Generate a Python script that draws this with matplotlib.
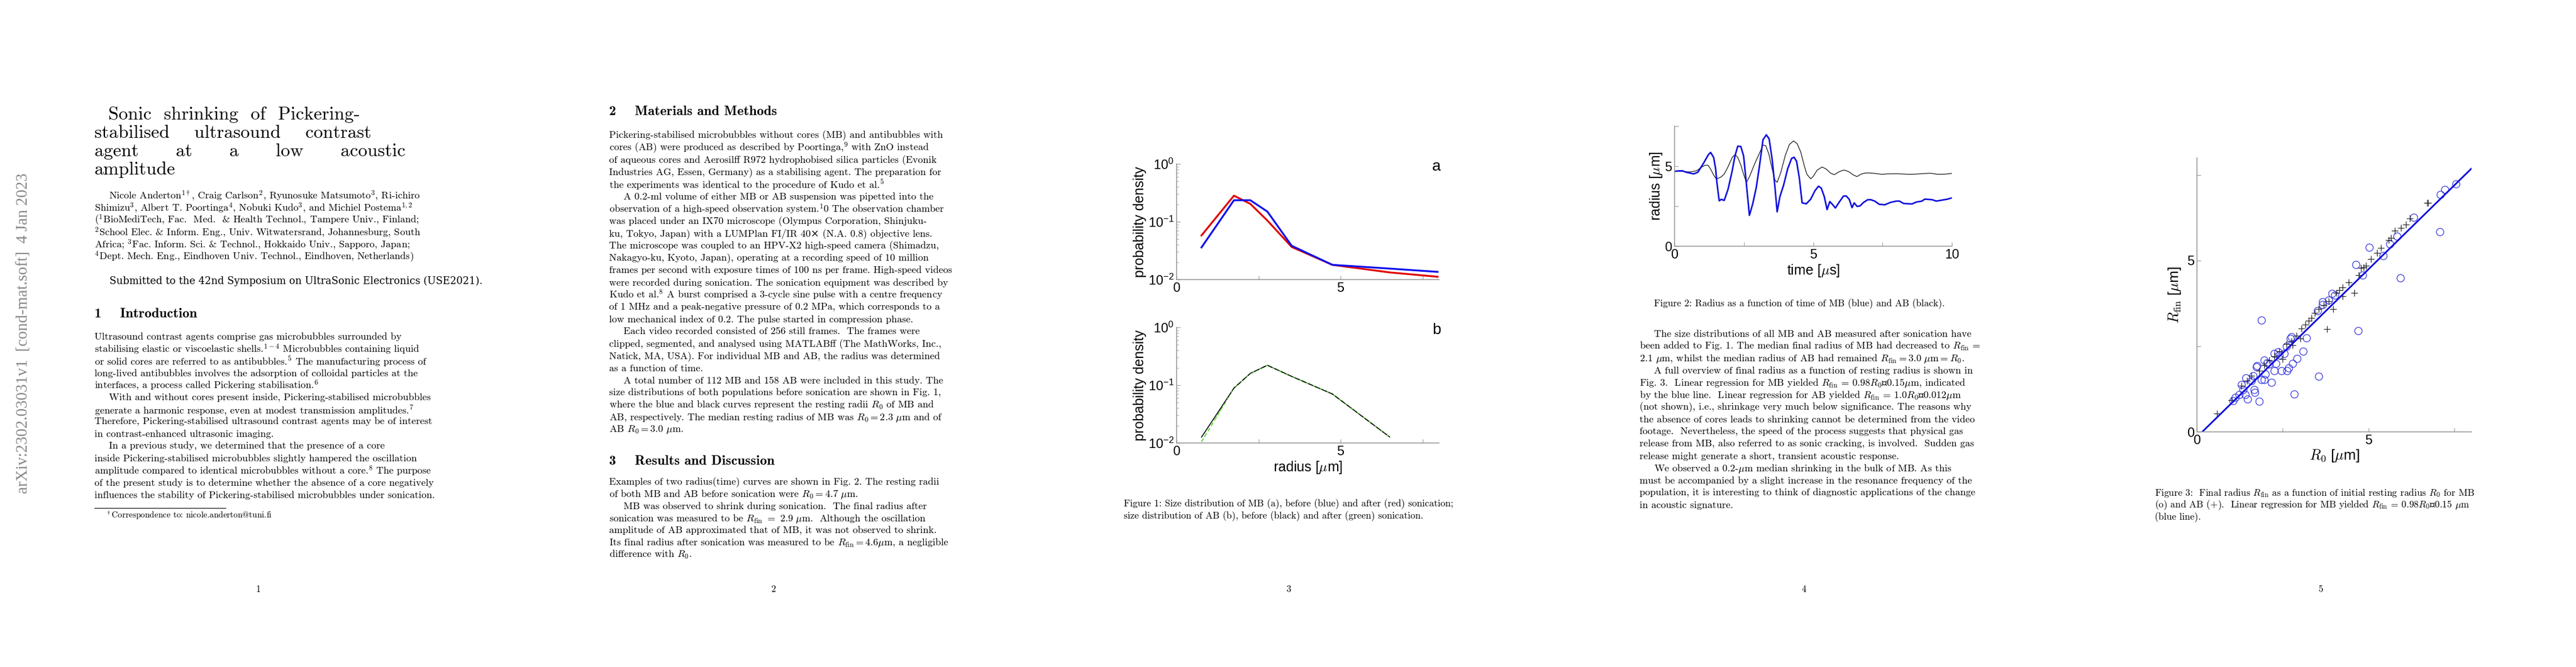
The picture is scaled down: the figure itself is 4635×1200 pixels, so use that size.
import matplotlib
matplotlib.use("Agg")
import matplotlib.pyplot as plt
import numpy as np

plt.rcParams['mathtext.fontset'] = 'cm'
plt.rcParams['axes.unicode_minus'] = False

W, H = 4635, 1200
fig = plt.figure(figsize=(W/100, H/100), dpi=100)
SER = ['cmr10', 'DejaVu Serif']
BOLD = ['cmb10', 'DejaVu Serif']
ITAL = ['cmti10', 'DejaVu Serif']
SANS = ['Liberation Sans', 'DejaVu Sans']

def T(x, y, s, size=13, fam=SER, **kw):
    kw.setdefault('va', 'center')
    fig.text(x/W, 1-y/H, s, fontsize=size, family=fam, **kw)

def lines(x, y0, step, ls, size=13, indent=()):
    for i, s in enumerate(ls):
        T(x + (26 if i in indent else 0), y0 + i*step, s, size)

# ---------------- data ----------------
fig1_r = [0.76, 1.75, 2.25, 2.77, 3.51, 4.75, 6.50, 7.96]
fig1a_before = [0.036, 0.236, 0.236, 0.15, 0.0385, 0.018, 0.0155, 0.0136]
fig1a_after = [0.058, 0.283, 0.204, 0.105, 0.0367, 0.018, 0.0133, 0.0112]
fig1b_r = [0.76, 1.75, 2.25, 2.77, 3.51, 4.75, 6.50]
fig1b_before = [0.0126, 0.089, 0.16, 0.221, 0.142, 0.0705, 0.0127]
fig1b_after = [0.0105, 0.089, 0.16, 0.221, 0.142, 0.0705, 0.0127]

mb_t = [0.00,0.12,0.28,0.43,0.69,0.84,1.05,1.22,1.30,1.41,1.48,1.53,1.61,1.69,1.79,1.93,2.08,2.18,2.28,2.39,2.49,2.57,2.70,2.82,2.95,3.05,3.19,3.31,3.41,3.52,3.62,3.70,3.80,3.93,4.08,4.22,4.31,4.40,4.50,4.60,4.75,4.91,5.06,5.19,5.29,5.40,5.50,5.60,5.68,5.80,5.94,6.09,6.19,6.30,6.40,6.48,6.58,6.69,6.81,6.96,7.07,7.22,7.38,7.58,7.79,8.00,8.11,8.26,8.56,8.72,8.92,9.02,9.28,9.44,9.64,9.84,10.0]
mb_r = [4.68,4.70,4.71,4.62,4.52,4.62,5.20,5.72,5.86,5.55,4.86,3.94,2.84,2.93,2.86,3.56,4.72,5.65,6.25,6.23,5.65,4.26,1.93,2.65,3.70,4.86,6.65,6.96,6.71,5.43,3.70,2.15,3.10,3.80,4.84,5.48,5.56,5.31,4.26,2.71,2.65,2.94,3.46,3.75,3.63,3.10,2.29,2.79,2.64,2.39,2.76,3.13,3.14,2.93,2.41,2.71,2.49,2.52,2.73,2.90,2.91,2.82,2.62,2.59,2.74,2.82,2.82,2.67,2.64,2.76,2.82,2.94,2.91,2.82,2.88,2.94,3.02]
ab_t = [0.00,0.23,0.53,0.79,0.95,1.10,1.21,1.31,1.41,1.51,1.67,1.79,1.93,2.08,2.18,2.28,2.39,2.49,2.59,2.71,2.90,3.05,3.19,3.29,3.40,3.52,3.62,3.70,3.83,3.99,4.14,4.29,4.42,4.55,4.67,4.77,4.91,5.01,5.14,5.32,5.47,5.63,5.76,5.94,6.11,6.28,6.45,6.58,6.71,6.86,7.02,7.22,7.48,7.68,8.04,8.46,8.66,8.97,9.23,9.49,9.74,10.0]
ab_r = [4.68,4.68,4.64,4.71,4.91,5.06,5.06,4.79,4.45,4.19,4.32,4.50,4.97,5.55,5.72,5.55,5.08,4.50,3.97,4.38,5.19,5.76,6.32,6.28,5.76,4.83,4.13,3.99,4.60,5.65,6.35,6.58,6.41,5.89,5.08,4.50,4.21,4.38,4.75,4.95,4.82,4.56,4.47,4.66,4.76,4.66,4.45,4.35,4.49,4.57,4.58,4.55,4.49,4.52,4.53,4.49,4.50,4.54,4.56,4.49,4.50,4.55]

mb_r0 = [7.54,7.23,7.09,6.32,7.07,5.83,5.62,5.02,5.43,4.63,4.82,5.93,4.01,3.93,3.66,1.88,4.69,3.19,3.10,2.91,2.79,2.67,2.63,2.46,2.25,3.55,2.30,2.17,2.83,1.82,1.47,1.68,1.67,1.41,1.12,1.05,1.30,1.43,1.63,1.74,1.96,1.96,1.88,1.99,2.10,2.25,2.39,2.54,2.75,2.72,2.61,2.36,2.04,1.75,1.58,1.34,1.23,3.52,3.66,3.84]
mb_rfin = [7.24,7.07,6.93,6.26,5.84,5.72,5.48,5.39,5.15,4.89,4.58,4.49,4.00,4.04,3.80,3.26,2.95,2.74,2.36,2.15,2.00,1.87,1.78,1.78,1.78,1.63,1.99,1.45,1.10,0.89,0.96,1.16,1.24,1.09,1.01,0.91,1.38,1.58,1.64,1.90,2.09,1.53,1.53,1.68,1.98,2.28,2.24,2.29,2.78,2.72,2.50,2.34,2.02,1.93,1.50,1.24,1.09,3.54,3.72,3.84]
ab_r0 = [0.58,1.01,1.30,1.45,1.59,1.81,1.96,2.10,2.25,2.39,2.50,2.61,2.75,2.79,2.90,3.01,3.04,3.15,3.26,3.33,3.44,3.55,3.70,3.84,3.97,3.79,4.07,4.14,4.24,4.24,4.42,4.58,4.71,4.78,4.86,4.93,5.07,5.25,5.36,5.58,5.65,5.76,5.94,6.09,6.70,6.74,6.20]
ab_rfin = [0.54,0.93,1.34,1.49,1.64,1.79,1.94,2.09,2.20,2.35,2.13,2.57,2.64,2.53,2.80,2.72,3.02,3.13,3.25,3.32,3.47,3.58,3.70,3.81,3.58,3.01,4.06,4.14,4.22,3.96,4.37,4.06,4.58,4.78,4.81,4.85,5.04,5.22,5.37,5.60,5.67,5.88,5.96,6.06,6.69,6.69,6.23]
fit_x = [0.15, 7.99]
fit_slope, fit_icpt = 0.98, -0.15

def ax_px(l, t, r, b):
    return fig.add_axes([l/W, 1-b/H, (r-l)/W, (b-t)/H])

def matlab_style(ax):
    for s in ['top', 'right']:
        ax.spines[s].set_visible(False)
    for s in ['left', 'bottom']:
        ax.spines[s].set_color('#999999'); ax.spines[s].set_linewidth(1.2)
    ax.tick_params(direction='in', color='#999999', length=5, labelsize=17)
    for lab in ax.get_xticklabels() + ax.get_yticklabels():
        lab.set_family(SANS)

# ---------------- page 1 ----------------
T(43, 600, 'arXiv:2302.03031v1  [cond-mat.soft]  4 Jan 2023', 21, ['Liberation Serif'],
  rotation=90, ha='center', color='#888888')
title = ['Sonic  shrinking  of  Pickering-', 'stabilised    ultrasound    contrast',
         'agent      at      a      low      acoustic', 'amplitude']
for i, s in enumerate(title):
    T(195 if i == 0 else 170, 206 + i*33, s, 24)
lines(170, 352, 22, [
    'Nicole Anderton$^{1\\dagger}$, Craig Carlson$^2$, Ryunosuke Matsumoto$^3$, Ri-ichiro',
    'Shimizu$^3$, Albert T. Poortinga$^4$, Nobuki Kudo$^3$, and Michiel Postema$^{1,2}$',
    '($^1$BioMediTech, Fac.  Med.  & Health Technol., Tampere Univ., Finland;',
    '$^2$School Elec. & Inform. Eng., Univ. Witwatersrand, Johannesburg, South',
    'Africa; $^3$Fac. Inform. Sci. & Technol., Hokkaido Univ., Sapporo, Japan;',
    '$^4$Dept. Mech. Eng., Eindhoven Univ. Technol., Eindhoven, Netherlands)'], indent=(0,))
T(197, 506, 'Submitted to the 42nd Symposium on UltraSonic Electronics (USE2021).', 13, ITAL)
T(170, 565, '1    Introduction', 18, BOLD)
lines(170, 606, 21.9, [
    'Ultrasound contrast agents comprise gas microbubbles surrounded by',
    'stabilising elastic or viscoelastic shells.$^{1-4}$ Microbubbles containing liquid',
    'or solid cores are referred to as antibubbles.$^5$ The manufacturing process of',
    'long-lived antibubbles involves the adsorption of colloidal particles at the',
    'interfaces, a process called Pickering stabilisation.$^6$',
    'With and without cores present inside, Pickering-stabilised microbubbles',
    'generate a harmonic response, even at modest transmission amplitudes.$^7$',
    'Therefore, Pickering-stabilised ultrasound contrast agents may be of interest',
    'in contrast-enhanced ultrasonic imaging.',
    'In a previous study, we determined that the presence of a core',
    'inside Pickering-stabilised microbubbles slightly hampered the oscillation',
    'amplitude compared to identical microbubbles without a core.$^8$ The purpose',
    'of the present study is to determine whether the absence of a core negatively',
    'influences the stability of Pickering-stabilised microbubbles under sonication.'],
    indent=(5, 9))
fig.add_artist(plt.Line2D([170/W, 406/W], [1-914/H, 1-914/H], color='k', lw=0.8))
T(190, 927, '$^\\dagger$Correspondence to: nicole.anderton@tuni.fi', 11)

# ---------------- page 2 ----------------
T(1096, 201, '2    Materials and Methods', 18, BOLD)
lines(1096, 244, 22.05, [
    'Pickering-stabilised microbubbles without cores (MB) and antibubbles with',
    'cores (AB) were produced as described by Poortinga,$^9$ with ZnO instead',
    'of aqueous cores and Aerosil® R972 hydrophobised silica particles (Evonik',
    'Industries AG, Essen, Germany) as a stabilising agent. The preparation for',
    'the experiments was identical to the procedure of Kudo et al.$^5$',
    'A 0.2-ml volume of either MB or AB suspension was pipetted into the',
    'observation of a high-speed observation system.$^1$0 The observation chamber',
    'was placed under an IX70 microscope (Olympus Corporation, Shinjuku-',
    'ku, Tokyo, Japan) with a LUMPlan FI/IR 40× (N.A. 0.8) objective lens.',
    'The microscope was coupled to an HPV-X2 high-speed camera (Shimadzu,',
    'Nakagyo-ku, Kyoto, Japan), operating at a recording speed of 10 million',
    'frames per second with exposure times of 100 ns per frame. High-speed videos',
    'were recorded during sonication. The sonication equipment was described by',
    'Kudo et al.$^8$ A burst comprised a 3-cycle sine pulse with a centre frequency',
    'of 1 MHz and a peak-negative pressure of 0.2 MPa, which corresponds to a',
    'low mechanical index of 0.2. The pulse started in compression phase.',
    'Each video recorded consisted of 256 still frames.  The frames were',
    'clipped, segmented, and analysed using MATLAB® (The MathWorks, Inc.,',
    'Natick, MA, USA). For individual MB and AB, the radius was determined',
    'as a function of time.',
    'A total number of 112 MB and 158 AB were included in this study. The',
    'size distributions of both populations before sonication are shown in Fig. 1,',
    'where the blue and black curves represent the resting radii $R_0$ of MB and',
    'AB, respectively. The median resting radius of MB was $R_0 = 2.3\\ \\mu$m and of',
    'AB $R_0 = 3.0\\ \\mu$m.'], indent=(5, 16, 20))
T(1096, 830, '3    Results and Discussion', 18, BOLD)
lines(1096, 868, 21.7, [
    'Examples of two radius(time) curves are shown in Fig. 2. The resting radii',
    'of both MB and AB before sonication were $R_0 = 4.7\\ \\mu$m.',
    'MB was observed to shrink during sonication.  The final radius after',
    'sonication was measured to be $R_{\\rm fin}\\ =\\ 2.9\\ \\mu$m.  Although the oscillation',
    'amplitude of AB approximated that of MB, it was not observed to shrink.',
    'Its final radius after sonication was measured to be $R_{\\rm fin} = 4.6\\mu$m, a negligible',
    'difference with $R_0$.'], indent=(2,))

# ---------------- page 3: figure 1 ----------------
axa = ax_px(2117, 295, 2589, 503)
axa.semilogy(fig1_r, fig1a_after, color='#e00000', lw=2.4)
axa.semilogy(fig1_r, fig1a_before, color='#1010ee', lw=2.4)
axb = ax_px(2117, 589, 2589, 797)
axb.semilogy(fig1b_r, fig1b_after, color='#66dd44', lw=1.6, ls=(0, (3, 2)))
axb.semilogy(fig1b_r, fig1b_before, color='black', lw=1.2)
axb.semilogy(fig1b_r, fig1b_after, color='#66dd44', lw=1.2, ls=(2, (2, 6)))
for ax, lab in [(axa, 'a'), (axb, 'b')]:
    ax.set_xlim(0, 8); ax.set_ylim(1e-2, 1)
    ax.set_xticks([0, 2.5, 5, 7.5]); ax.set_xticklabels(['0', '', '5', ''])
    ax.set_yticks([1e-2, 1e-1, 1])
    ax.set_yticklabels(['$\\mathregular{10^{-2}}$', '$\\mathregular{10^{-1}}$', '$\\mathregular{10^{0}}$'])
    ax.set_ylabel('probability density', fontsize=18, family=SANS, labelpad=2)
    matlab_style(ax)
    ax.tick_params(which='minor', direction='in', color='#999999', length=3)
    ax.text(0.975, 0.94, lab, transform=ax.transAxes, fontsize=20, family=SANS, ha='left')
axb.set_xlabel('radius [$\\mu$m]', fontsize=18, family=SANS, labelpad=2)
T(2022, 907, 'Figure 1: Size distribution of MB (a), before (blue) and after (red) sonication;', 12.5)
T(2022, 929, 'size distribution of AB (b), before (black) and after (green) sonication.', 12.5)

# ---------------- page 4: figure 2 ----------------
ax2 = ax_px(3013, 227, 3512, 443)
ax2.plot(ab_t, ab_r, color='#111111', lw=0.9)
ax2.plot(mb_t, mb_r, color='#1010dd', lw=2.0)
ax2.set_xlim(0, 10); ax2.set_ylim(0, 7.5)
ax2.set_xticks([0, 2.5, 5, 7.5, 10]); ax2.set_xticklabels(['0', '', '5', '', '10'])
ax2.set_yticks([0, 2.5, 5, 7.5]); ax2.set_yticklabels(['0', '', '5', ''])
ax2.set_xlabel('time [$\\mu$s]', fontsize=18, family=SANS, labelpad=2)
ax2.set_ylabel('radius [$\\mu$m]', fontsize=18, family=SANS, labelpad=1)
matlab_style(ax2)
T(2976, 547, 'Figure 2: Radius as a function of time of MB (blue) and AB (black).', 12.5)
lines(2950, 601, 22, [
    'The size distributions of all MB and AB measured after sonication have',
    'been added to Fig. 1. The median final radius of MB had decreased to $R_{\\rm fin}$ =',
    '2.1 $\\mu$m, whilst the median radius of AB had remained $R_{\\rm fin} = 3.0\\ \\mu{\\rm m} = R_0$.',
    'A full overview of final radius as a function of resting radius is shown in',
    'Fig. 3.  Linear regression for MB yielded $R_{\\rm fin}$ = 0.98$R_0$–0.15$\\mu$m, indicated',
    'by the blue line.  Linear regression for AB yielded $R_{\\rm fin}$ = 1.0$R_0$–0.012$\\mu$m',
    '(not shown), i.e., shrinkage very much below significance. The reasons why',
    'the absence of cores leads to shrinking cannot be determined from the video',
    'footage.  Nevertheless, the speed of the process suggests that physical gas',
    'release from MB, also referred to as sonic cracking, is involved.  Sudden gas',
    'release might generate a short, transient acoustic response.',
    'We observed a 0.2-$\\mu$m median shrinking in the bulk of MB. As this',
    'must be accompanied by a slight increase in the resonance frequency of the',
    'population, it is interesting to think of diagnostic applications of the change',
    'in acoustic signature.'], indent=(0, 3, 11))

# ---------------- page 5: figure 3 ----------------
ax3 = ax_px(3953, 284, 4447, 777)
ax3.plot(mb_r0, mb_rfin, 'o', mfc='none', mec='#3030dd', ms=9.5, mew=0.9)
ax3.plot(ab_r0, ab_rfin, '+', color='#222222', ms=9, mew=0.9)
fx = np.array(fit_x)
ax3.plot(fx, fit_slope*fx + fit_icpt, color='#1010dd', lw=2.2)
ax3.set_xlim(0, 8); ax3.set_ylim(0, 8)
ax3.set_xticks([0, 2.5, 5, 7.5]); ax3.set_xticklabels(['0', '', '5', ''])
ax3.set_yticks([0, 2.5, 5, 7.5]); ax3.set_yticklabels(['0', '', '5', ''])
ax3.set_xlabel('$R_0$ [$\\mu$m]', fontsize=19, family=SANS, labelpad=2)
ax3.set_ylabel('$R_{\\rm fin}$ [$\\mu$m]', fontsize=19, family=SANS, labelpad=6)
matlab_style(ax3)
lines(3877, 887, 22, [
    'Figure 3:  Final radius $R_{\\rm fin}$ as a function of initial resting radius $R_0$ for MB',
    '(o) and AB (+).  Linear regression for MB yielded $R_{\\rm fin}$ = 0.98$R_0$–0.15 $\\mu$m',
    '(blue line).'], size=12.5)

# page numbers
for i, x in enumerate([465, 1391, 2318, 3246, 4175]):
    T(x, 1060, str(i+1), 12, ha='center')

fig.savefig('out.png', dpi=100, facecolor='white')
